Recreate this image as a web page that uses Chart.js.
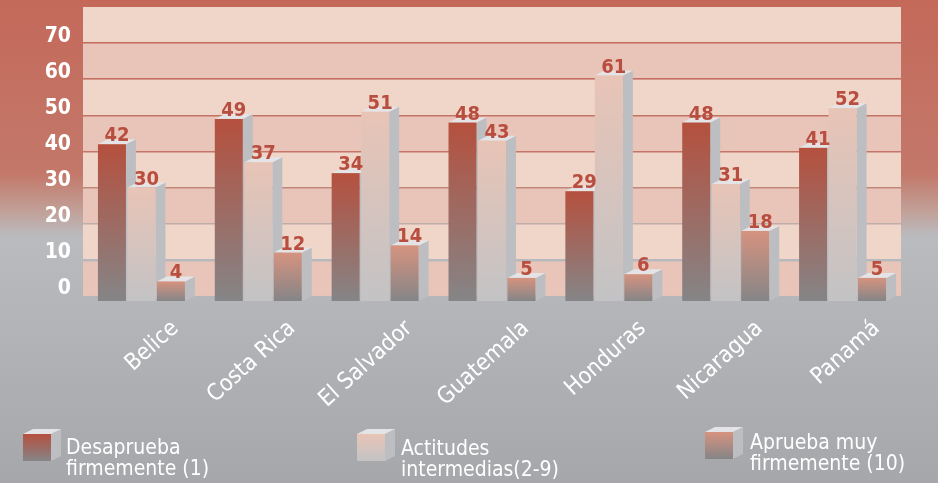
<!DOCTYPE html>
<html>
<head>
<meta charset="utf-8">
<script src="https://cdn.jsdelivr.net/npm/chart.js@4.4.0/dist/chart.umd.min.js"></script>
<style>
  html, body { margin: 0; padding: 0; background: #b0b1b5; }
  #wrap { width: 938px; height: 483px; }
</style>
</head>
<body>
<div id="wrap"><canvas id="myChart" width="938" height="483"></canvas></div>
<script>
// data
var countries = ["Belice", "Costa Rica", "El Salvador", "Guatemala", "Honduras", "Nicaragua", "Panamá"];
var desaprueba = [42, 49, 34, 48, 29, 48, 41];
var intermedias = [30, 37, 51, 43, 61, 31, 52];
var aprueba = [4, 12, 14, 5, 6, 18, 5];
var yTicks = [0, 10, 20, 30, 40, 50, 60, 70];
var legendLines = [["Desaprueba", "firmemente (1)"], ["Actitudes", "intermedias(2-9)"], ["Aprueba muy", "firmemente (10)"]];

var topColors = ["#b5503e", "#e8c4b6", "#d6937f"];
var bottomColors = ["#858587", "#c3c3c5", "#858587"];
var FONT = '"DejaVu Sans Condensed", "DejaVu Sans", sans-serif';
var DX = 10, DY = 5;

function bgGradient(ctx) {
  var g = ctx.createLinearGradient(0, 0, 0, 483);
  g.addColorStop(0, "#c4695a");
  g.addColorStop(0.36, "#c3786a");
  g.addColorStop(0.44, "#c1a29a");
  g.addColorStop(0.49, "#babbbf");
  g.addColorStop(1, "#a6a7ab");
  return g;
}

function box3d(ctx, x0, top, w, base, d) {
  var x1 = x0 + w;
  ctx.fillStyle = "#bdbec2";
  ctx.beginPath();
  ctx.moveTo(x1, top); ctx.lineTo(x1 + DX, top - DY);
  ctx.lineTo(x1 + DX, base - DY); ctx.lineTo(x1, base);
  ctx.closePath(); ctx.fill();
  ctx.fillStyle = "#e4e4e6";
  ctx.beginPath();
  ctx.moveTo(x0, top); ctx.lineTo(x0 + DX, top - DY);
  ctx.lineTo(x1 + DX, top - DY); ctx.lineTo(x1, top);
  ctx.closePath(); ctx.fill();
  var g = ctx.createLinearGradient(0, top, 0, base);
  g.addColorStop(0, topColors[d]);
  g.addColorStop(1, bottomColors[d]);
  ctx.fillStyle = g;
  ctx.fillRect(x0, top, w, base - top);
}

var backdrop = {
  id: "backdrop",
  beforeDraw: function(chart) {
    var ctx = chart.ctx, a = chart.chartArea, y = chart.scales.y;
    ctx.save();
    ctx.fillStyle = bgGradient(ctx);
    ctx.fillRect(0, 0, chart.width, chart.height);
    for (var v = 0; v < 80; v += 10) {
      var t = y.getPixelForValue(v + 10), b = y.getPixelForValue(v);
      ctx.fillStyle = (v / 10) % 2 === 0 ? "#e9c5b9" : "#f0d5c9";
      ctx.fillRect(a.left, t, a.right - a.left, b - t);
    }
    ctx.restore();
  }
};

var bars3d = {
  id: "bars3d",
  afterDatasetsDraw: function(chart) {
    var ctx = chart.ctx;
    ctx.save();
    chart.data.datasets.forEach(function(ds, d) {
      chart.getDatasetMeta(d).data.forEach(function(bar) {
        var p = bar.getProps(["x", "y", "base", "width"], true);
        box3d(ctx, p.x - p.width / 2, p.y, p.width, p.base, d);
      });
    });
    // value labels on top
    ctx.font = "bold 20px " + FONT;
    ctx.fillStyle = "#b84e3f";
    ctx.textAlign = "center";
    ctx.textBaseline = "alphabetic";
    chart.data.datasets.forEach(function(ds, d) {
      chart.getDatasetMeta(d).data.forEach(function(bar, i) {
        var p = bar.getProps(["x", "y"], true);
        ctx.fillText(String(ds.data[i]), p.x + 5, p.y - 3);
      });
    });
    ctx.restore();
  },
  afterDraw: function(chart) {
    var ctx = chart.ctx;
    var boxX = [23, 357, 705], boxY = [434, 434, 432];
    var textX = [66, 401, 750], textY = [454, 455, 449];
    ctx.save();
    for (var d = 0; d < 3; d++) {
      box3d(ctx, boxX[d], boxY[d], 28, boxY[d] + 27, d);
      ctx.font = "21px " + FONT;
      ctx.fillStyle = "#ffffff";
      ctx.textAlign = "left";
      ctx.textBaseline = "alphabetic";
      ctx.fillText(legendLines[d][0], textX[d], textY[d]);
      ctx.fillText(legendLines[d][1], textX[d], textY[d] + 21);
    }
    ctx.restore();
  }
};

new Chart("myChart", {
  type: "bar",
  data: {
    labels: countries,
    datasets: [
      { label: legendLines[0].join(" "), data: desaprueba, base: -1.4, backgroundColor: "rgba(0,0,0,0)" },
      { label: legendLines[1].join(" "), data: intermedias, base: -1.4, backgroundColor: "rgba(0,0,0,0)" },
      { label: legendLines[2].join(" "), data: aprueba, base: -1.4, backgroundColor: "rgba(0,0,0,0)" }
    ]
  },
  options: {
    responsive: false,
    animation: false,
    devicePixelRatio: 1,
    layout: { padding: { top: 7, right: 37, left: 0, bottom: 0 } },
    datasets: { bar: { categoryPercentage: 0.757, barPercentage: 0.95 } },
    plugins: { legend: { display: false }, tooltip: { enabled: false } },
    scales: {
      x: {
        grid: { display: false, drawTicks: false },
        border: { display: false },
        ticks: {
          color: "#ffffff",
          font: { family: FONT, size: 23 },
          autoSkip: false,
          minRotation: 42,
          maxRotation: 42,
          labelOffset: 34,
          padding: 14
        },
        afterFit: function(s) { s.height = 182; s.paddingLeft = 0; s.paddingRight = 0; }
      },
      y: {
        min: -1.4,
        max: 80,
        afterBuildTicks: function(s) { s.ticks = yTicks.map(function(v) { return { value: v }; }); },
        grid: {
          drawTicks: false,
          color: function(c) { return c.tick && c.tick.value === 0 ? "rgba(0,0,0,0)" : bgGradient(c.chart.ctx); },
          lineWidth: function(c) { return c.tick && c.tick.value === 10 ? 2.5 : 1.5; }
        },
        border: { display: false },
        ticks: {
          color: "#ffffff",
          font: { family: FONT, size: 21, weight: "bold" },
          padding: 12,
          labelOffset: -7
        },
        afterFit: function(s) { s.width = 83; s.paddingTop = 0; s.paddingBottom = 0; }
      }
    }
  },
  plugins: [backdrop, bars3d]
});
</script>
</body>
</html>
